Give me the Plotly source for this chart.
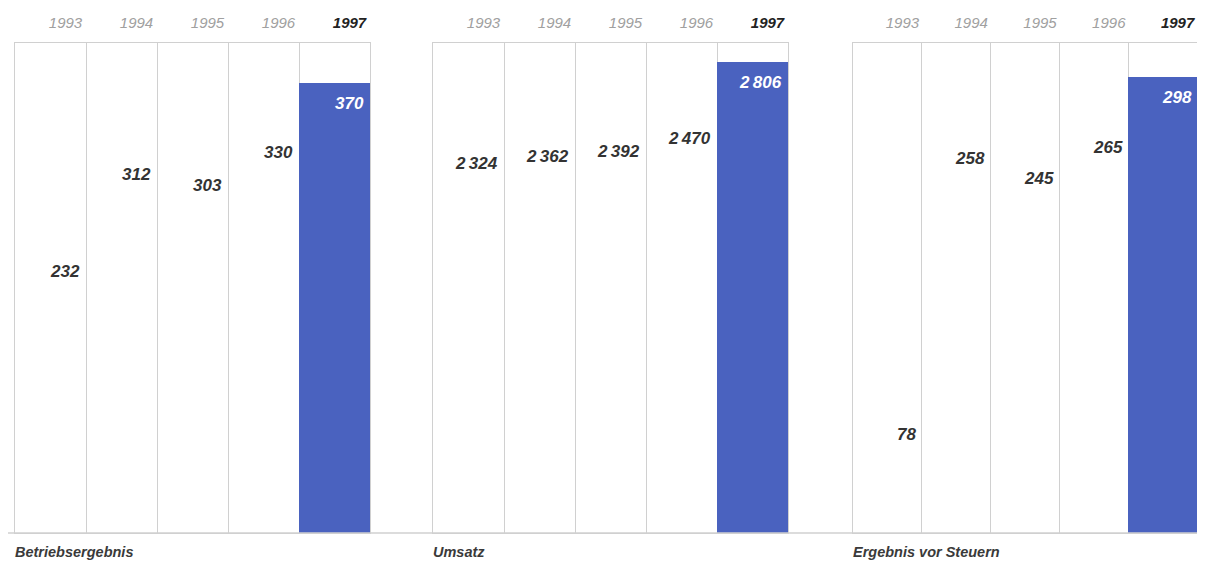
import plotly.graph_objects as go

years = ["1993", "1994", "1995", "1996", "1997"]
titles = ["Betriebsergebnis", "Umsatz", "Ergebnis vor Steuern"]
betriebsergebnis = [232, 312, 303, 330, 370]
umsatz = [2324, 2362, 2392, 2470, 2806]
ergebnis_vor_steuern = [78, 258, 245, 265, 298]
series = [betriebsergebnis, umsatz, ergebnis_vor_steuern]

# the page body adds an 8px margin; positions below are page pixels minus that
OFF = 8
W, H = 1205 - 2 * OFF, 575 - 2 * OFF
def px_x(p):
    return min((p - OFF) / W, 1.0)
def px_y(p):
    return 1 - (p - OFF) / H

x_domains = [(px_x(15), px_x(370)), (px_x(433), px_x(788)), (px_x(853), px_x(1203))]
y_domain = (px_y(533), px_y(43))
y_max = [403, 2919, 320]

BLUE = "#4a62bf"
GRID = "#d0d0d0"
FONT = "Liberation Sans, Arial, sans-serif"

fig = go.Figure()


def fmt(v):
    return f"{v:,}".replace(",", "\u2009")


for i, (vals, title) in enumerate(zip(series, titles)):
    n = "" if i == 0 else str(i + 1)
    xa, ya = "x" + n, "y" + n
    colors = ["rgba(0,0,0,0)"] * (len(years) - 1) + [BLUE]
    fig.add_trace(go.Bar(x=years, y=vals, marker=dict(color=colors, line=dict(width=0)),
                         width=1.0, xaxis=xa, yaxis=ya, showlegend=False, hoverinfo="skip"))
    ticktext = [f"<i>{y}</i>" for y in years[:-1]] + [
        f"<b><i><span style='color:#222'>{years[-1]}</span></i></b>"]
    fig.layout["xaxis" + n] = dict(
        domain=x_domains[i], anchor=ya, type="category", side="top",
        range=[-0.5, len(years) - 0.5], tickson="boundaries",
        tickvals=years, ticktext=ticktext, ticks="", showgrid=True,
        gridcolor=GRID, gridwidth=1, showline=True, linecolor=GRID, mirror=True,
        tickfont=dict(family=FONT, size=15, color="#a0a0a0"),
        ticklabelshift=15, ticklabelstandoff=8, fixedrange=True, zeroline=False)
    fig.layout["yaxis" + n] = dict(
        domain=y_domain, anchor=xa, range=[0, y_max[i]], showgrid=False,
        showticklabels=False, ticks="", showline=True, linecolor=GRID,
        mirror=True, zeroline=False, fixedrange=True)
    for j, v in enumerate(vals):
        last = j == len(years) - 1
        fig.add_annotation(x=j, y=v, xref=xa, yref=ya, text=f"<b><i>{fmt(v)}</i></b>",
                           showarrow=False, xanchor="right", yanchor="top",
                           xshift=31, yshift=-9,
                           font=dict(family=FONT, size=17,
                                     color="#ffffff" if last else "#333333"))
    fig.add_annotation(x=0, y=px_y(552), xref=xa + " domain", yref="paper",
                       text=f"<b><i>{title}</i></b>", showarrow=False,
                       xanchor="left", yanchor="middle", xshift=-2,
                       font=dict(family=FONT, size=14.5, color="#3a3a3a"))

fig.add_shape(type="line", xref="paper", yref="paper", x0=0, x1=1,
              y0=px_y(533), y1=px_y(533), line=dict(color=GRID, width=1.5))

fig.update_layout(width=W, height=H, margin=dict(l=0, r=0, t=0, b=0),
                  paper_bgcolor="white", plot_bgcolor="white", bargap=0)
fig.write_html("out.html")
